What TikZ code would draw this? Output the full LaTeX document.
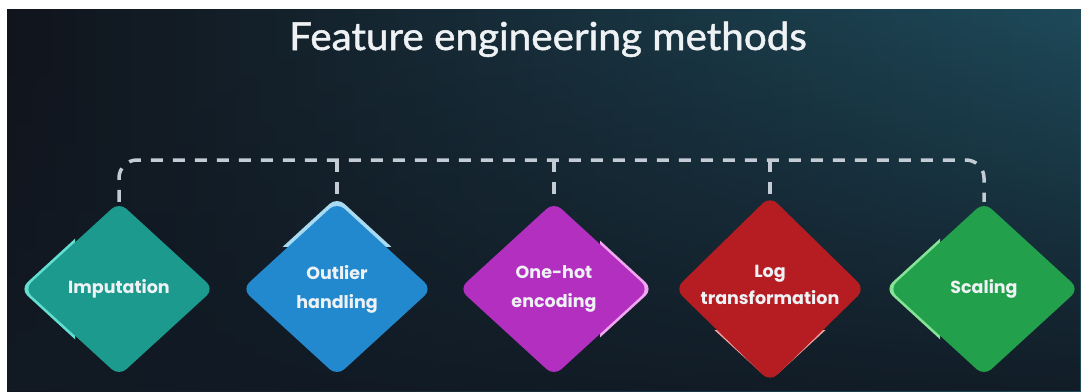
\documentclass[tikz,border=0pt]{standalone}
\usepackage{fontspec}
\setmainfont{Poppins}
\newfontfamily\titlefont[FakeBold=1.3, FakeStretch=1.05]{Lato}
\usetikzlibrary{shapes.geometric,fadings}

\definecolor{bgleft}{HTML}{11141C}
\definecolor{bgmid}{HTML}{163947}
\definecolor{bgright}{HTML}{1E4A5A}
\definecolor{bgbottom}{HTML}{111A24}
\definecolor{dashgray}{HTML}{C3CCD4}
\definecolor{textwhite}{HTML}{EEF2F4}
\definecolor{tealmain}{HTML}{1D9A8E}
\definecolor{teallight}{HTML}{62DFD0}
\definecolor{bluemain}{HTML}{2389CF}
\definecolor{bluelight}{HTML}{A8DAF2}
\definecolor{magmain}{HTML}{B22FC0}
\definecolor{maglight}{HTML}{F2A6F2}
\definecolor{redmain}{HTML}{B51D22}
\definecolor{redlight}{HTML}{F2A4A4}
\definecolor{greenmain}{HTML}{22A04B}
\definecolor{greenlight}{HTML}{86E296}

\tikzset{
  gemedge/.style={diamond, minimum width=190pt, minimum height=174pt, inner sep=0pt,
    rounded corners=10pt},
  gem/.style={gemedge, text=textwhite, align=center,
    font=\fontsize{17.5}{29}\selectfont\bfseries},
  busline/.style={draw=dashgray, line width=3.5pt, dash pattern=on 12pt off 10pt},
}

\begin{document}
\begin{tikzpicture}[x=1pt, y=-1pt]
  \useasboundingbox (0,0) rectangle (1081,391);
  % page and backdrop
  \fill[white] (0,0) rectangle (1081,391);
  \shade[left color=bgleft, middle color=bgmid, right color=bgright] (7,9) rectangle (1081,391);
  \fill[bgbottom, path fading=north, fill opacity=0.95] (7,9) rectangle (1081,391);

  % title
  \node[text=textwhite, font=\titlefont\fontsize{38.5}{40}\selectfont, anchor=base, inner sep=0pt]
    (title) at (548,50) {Feature engineering methods};

  % light offset rims behind the diamonds
  \begin{scope}
    \clip (0,0) rectangle (75,391);
    \node[gemedge, fill=teallight] at (115,289) {};
  \end{scope}
  \begin{scope}
    \clip (0,0) rectangle (1081,246);
    \node[gemedge, fill=bluelight] at (337,284) {};
  \end{scope}
  \begin{scope}
    \clip (600,0) rectangle (1081,391);
    \node[gemedge, fill=maglight] at (558,289) {};
  \end{scope}
  \begin{scope}
    \clip (0,330) rectangle (1081,391);
    \node[gemedge, fill=redlight] at (770,294) {};
  \end{scope}
  \begin{scope}
    \clip (0,0) rectangle (940,391);
    \node[gemedge, fill=greenlight] at (980,289) {};
  \end{scope}

  % method diamonds
  \node[gem, fill=tealmain]  (imp) at (119,289) {Imputation};
  \node[gem, fill=bluemain]  (out) at (337,289) {Outlier\\handling};
  \node[gem, fill=magmain]   (one) at (554,289) {One-hot\\encoding};
  \node[gem, fill=redmain]   (log) at (770,289) {\raisebox{8pt}{\shortstack{Log\\[5pt]transformation}}};
  \node[gem, fill=greenmain] (scl) at (984,289) {Scaling};

  % dashed bus joining the methods
  \coordinate (bus) at (0,160);
  \draw[busline, rounded corners=18pt] (imp.north) -- (imp.north |- bus) -- (scl.north |- bus) -- (scl.north);
  \draw[busline] (out.north |- bus) -- (out.north);
  \draw[busline] (one.north |- bus) -- (one.north);
  \draw[busline] (log.north |- bus) -- (log.north);
\end{tikzpicture}
\end{document}
